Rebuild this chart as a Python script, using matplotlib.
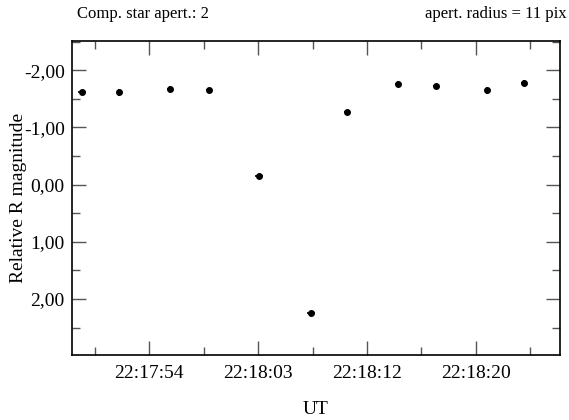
import matplotlib
matplotlib.use("Agg")
import matplotlib.pyplot as plt
from matplotlib.ticker import FixedLocator, MultipleLocator

# time: seconds after 22:17:00 UT
t_sec = [48.93, 51.89, 55.90, 58.97, 62.96, 67.06, 69.94, 74.00, 76.99, 81.01, 83.97]
rel_mag = [-1.61, -1.61, -1.67, -1.645, -0.147, 2.253, -1.26, -1.755, -1.715, -1.65, -1.773]
mag_err = [0.03, 0.06, 0.05, 0.05, 0.03, 0.03, 0.05, 0.05, 0.05, 0.06, 0.05]
t_err = [0.30, 0.10, 0.25, 0.25, 0.30, 0.30, 0.25, 0.25, 0.25, 0.10, 0.25]

# tick positions: day fractions 0.9291 ... 0.9294
tick_dayfrac = [0.9291, 0.9292, 0.9293, 0.9294]
tick_labels = ["22:17:54", "22:18:03", "22:18:12", "22:18:20"]
ref0 = 22 * 3600 + 17 * 60
tick_pos = [d * 86400 - ref0 for d in tick_dayfrac]
minor_pos = [tick_pos[0] - 4.32] + [p + 4.32 for p in tick_pos]

ytick_vals = [-2.0, -1.0, 0.0, 1.0, 2.0]
ytick_labels = ["-2,00", "-1,00", "0,00", "1,00", "2,00"]

plt.rcParams['font.family'] = ['Liberation Serif', 'DejaVu Serif']

fig = plt.figure(figsize=(5.69, 4.20), dpi=100)
ax = fig.add_axes([71.7 / 569, 1 - 355 / 420, (560 - 71.7) / 569, (355 - 41) / 420])

ax.errorbar(t_sec, rel_mag, yerr=mag_err, xerr=t_err, fmt='o', color='black',
            markersize=4.0, elinewidth=1.2, capsize=0, linestyle='none')

ax.set_xlim(48.11, 86.82)
ax.set_ylim(2.98, -2.51)

ax.set_xticks(tick_pos)
ax.set_xticklabels(tick_labels)
ax.xaxis.set_minor_locator(FixedLocator(minor_pos))
ax.set_yticks(ytick_vals)
ax.set_yticklabels(ytick_labels)
ax.yaxis.set_minor_locator(MultipleLocator(0.5))

ax.tick_params(which='both', direction='in', top=True, right=True, color='#555555',
               width=1.0, labelsize=14)
ax.tick_params(which='major', length=10, pad=5)
ax.tick_params(axis='x', which='major', pad=7)
ax.tick_params(which='minor', length=5.5)
for s in ax.spines.values():
    s.set_linewidth(1.2)
    s.set_color('black')

ax.set_xlabel("UT", fontsize=14, labelpad=14)
ax.set_ylabel("Relative R magnitude", fontsize=14, labelpad=-2)

fig.text(76.7 / 569, 1 - 14 / 420, "Comp. star apert.: 2", fontsize=12,
         ha='left', va='center')
fig.text(566.7 / 569, 1 - 14 / 420, "apert. radius = 11 pix", fontsize=12,
         ha='right', va='center')

fig.savefig("out.png", dpi=100)
